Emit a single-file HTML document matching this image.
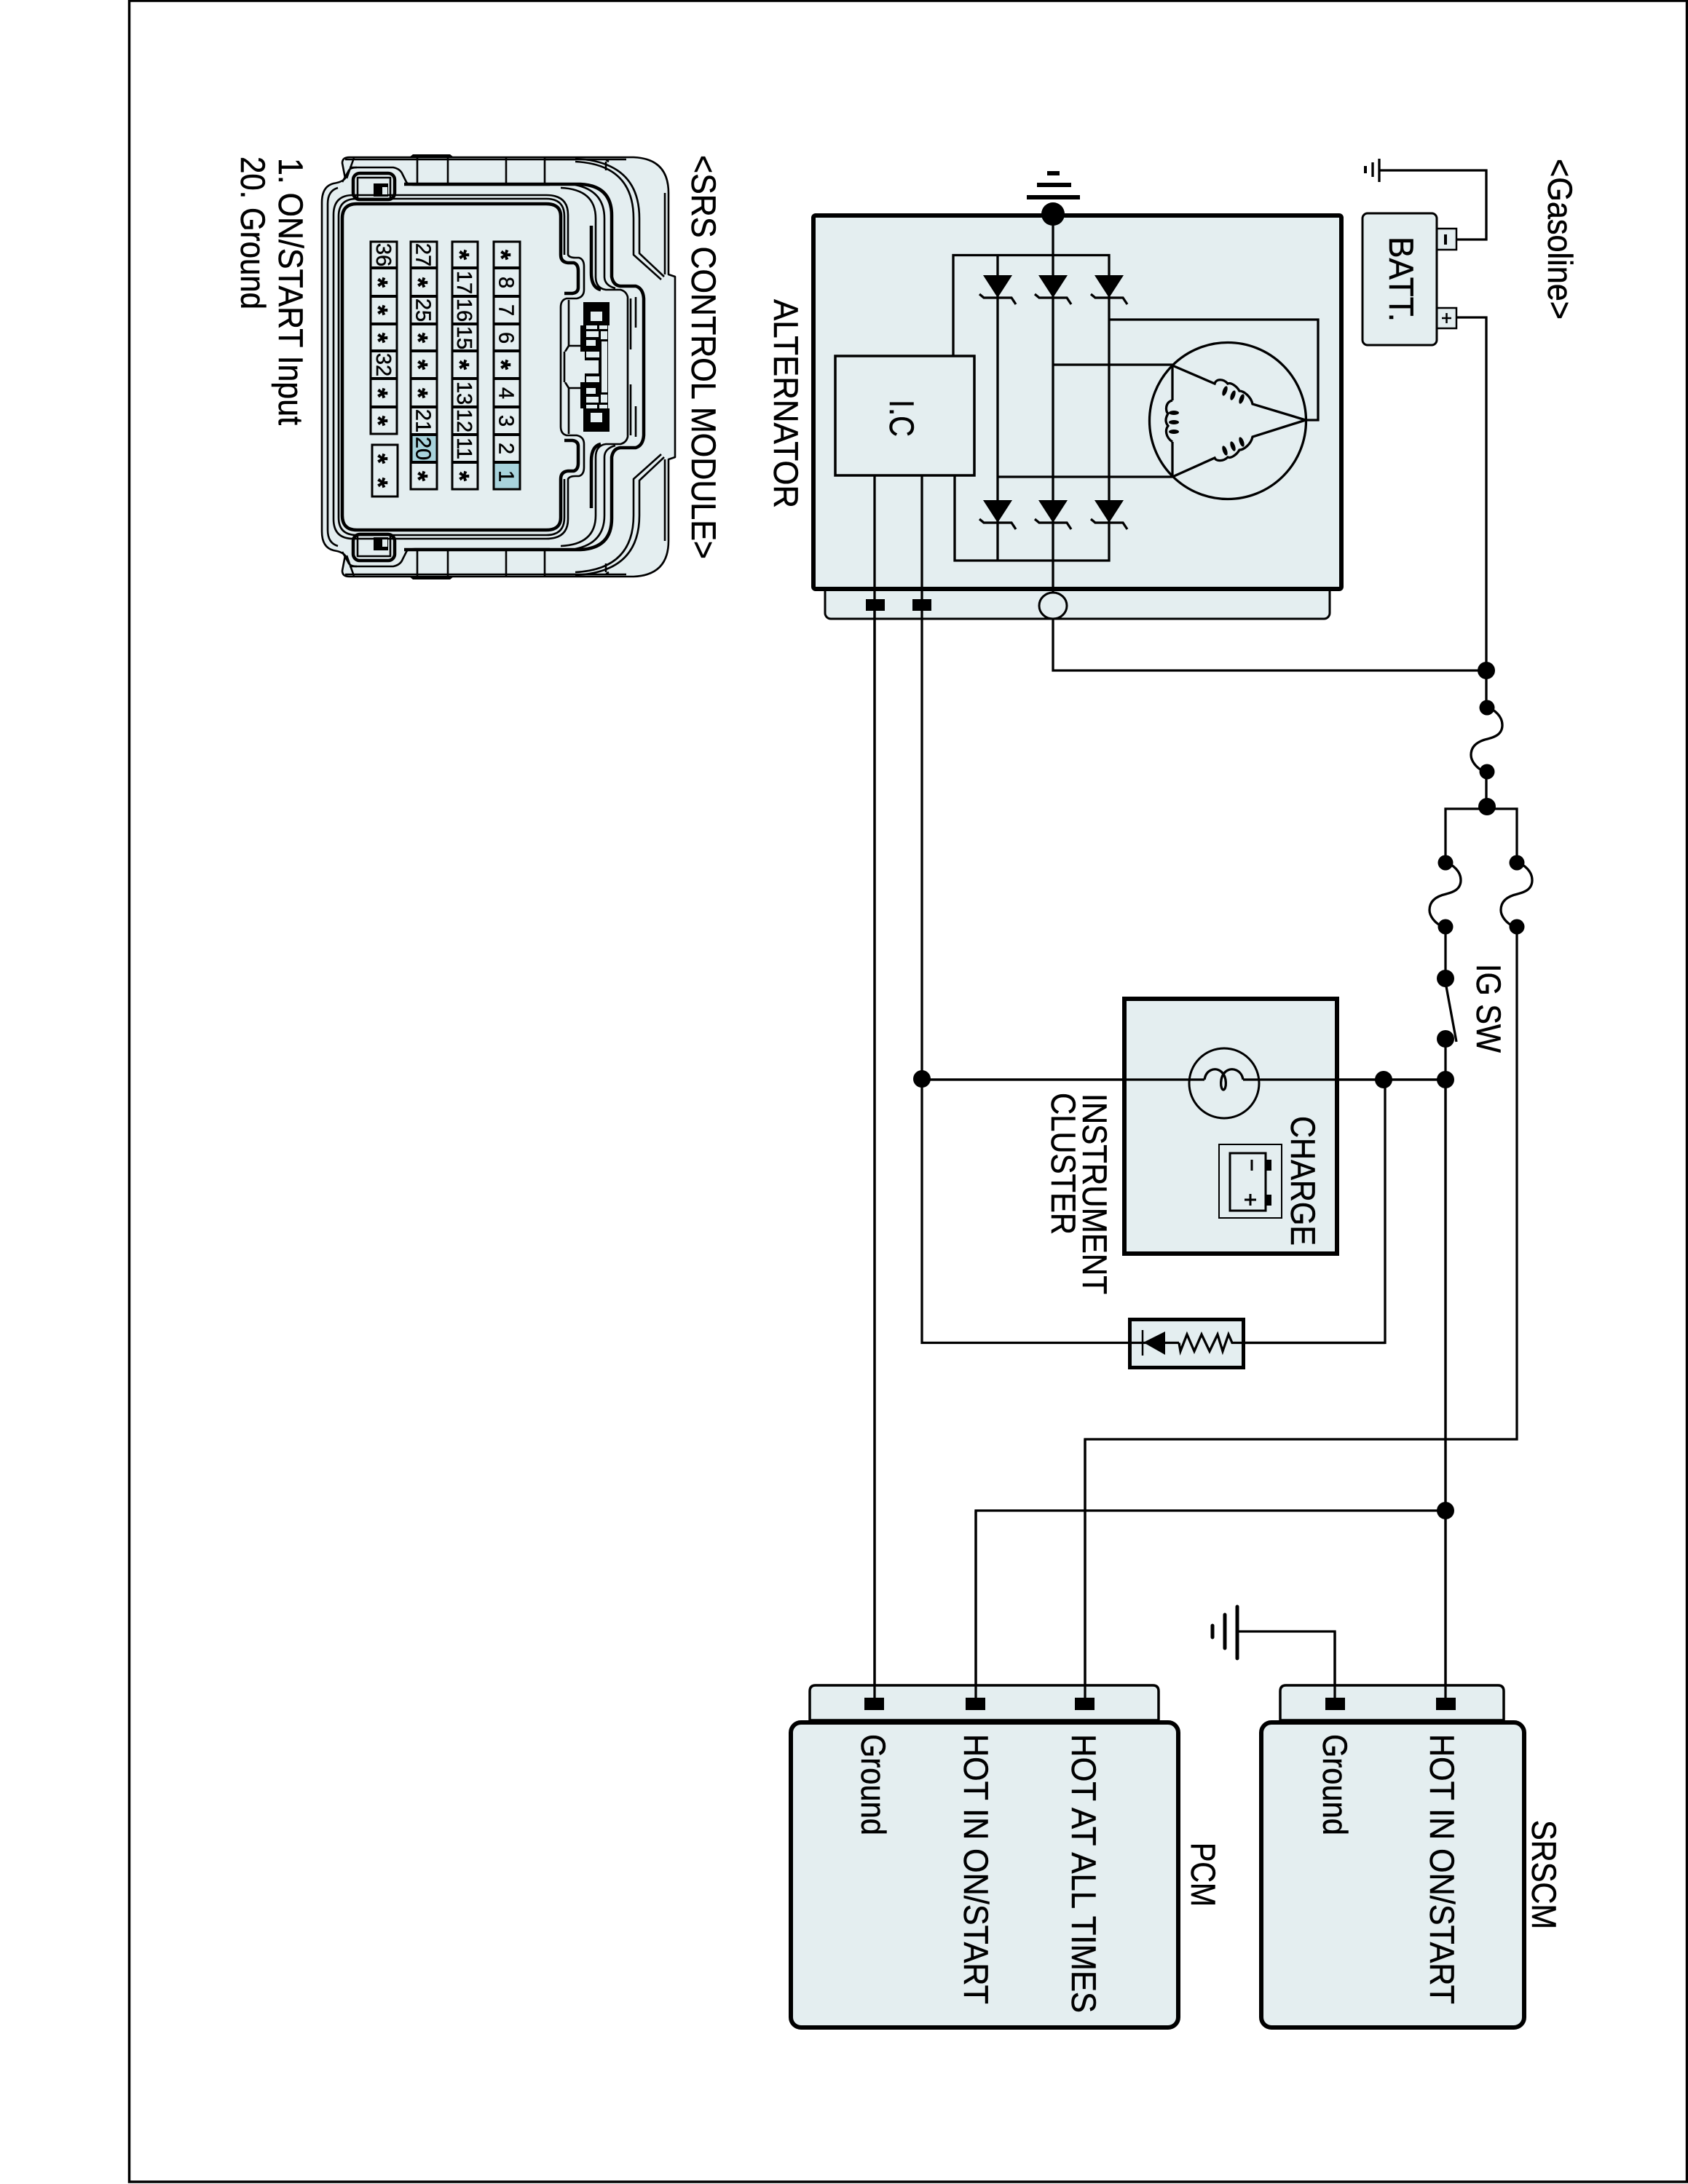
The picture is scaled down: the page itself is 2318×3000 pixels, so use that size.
<!DOCTYPE html>
<html><head><meta charset="utf-8"><title>Charging circuit</title>
<style>
html,body{margin:0;padding:0;background:#fff}
svg{display:block}
text{font-family:"Liberation Sans",sans-serif;font-size:47px;fill:#000;stroke:#000;stroke-width:.5px}
.n{font-size:29px;text-anchor:middle}
.s{font-size:36px;font-weight:bold;text-anchor:middle}
.w{fill:none;stroke:#000;stroke-width:3.3}
.c{fill:none;stroke:#000;stroke-width:2.6;stroke-linejoin:round}
.c2{fill:none;stroke:#000;stroke-width:4.5;stroke-linejoin:round}
</style></head><body>
<svg xmlns="http://www.w3.org/2000/svg" width="2318" height="3000" viewBox="0 0 2318 3000">
<defs>
<g id="diode"><path d="M-20 0H20L0 31Z" fill="#000"/><path d="M-25 26L-19 31H19L25 40" class="w"/></g>
<g id="fuse"><path d="M0,0 C10,2 21,12 21,24 C21,38 8,41 1,43 C-8,45 -22,50 -22,65 C-22,74 -14,82 -9,85" class="w"/><circle r="10.5"/><circle cy="88" r="10.5"/></g>
<g id="half">
<path d="M442 504V278Q442 256 458 252Q470 250 474 245L470 224Q470 216 480 216H870Q918 218 918 265V377L927 380V504" class="c" stroke-width="3"/>
<path d="M450 504V280Q450 262 464 258" class="c"/>
<path d="M474 219H790M480 230H540Q550 232 553 240L558 250Q560 254 570 254H755" class="c"/>
<path d="M470 250L478 236Q480 230 490 230" class="c"/>
<path d="M486 217L476 245" class="c"/>
<path d="M562 216L567 212H618L623 216" fill="#000"/>
<path d="M573 217V254M615 217V254M695 217V254M748 217V254" class="c"/>
<path d="M790 218Q878 222 878 300V348L912 380M790 222Q870 226 870 300V350L908 384" class="c"/>
<path d="M748 219H835Q830 219 836 222M835 219H860M832 222V234" class="c"/>
<path d="M913 265V377" class="c"/>
<path d="M555 253H797Q840 255 840 296V380Q842 392 852 393H873Q883 396 884 410V504" class="c2"/>
<path d="M770 258Q818 260 818 300V380Q818 396 832 398H852Q860 400 862 408V504" class="c"/>
<path d="M790 254Q830 262 830 300V380Q830 392 845 396" class="c"/>
<path d="M812 310V375M812 375Q812 395 825 398" class="c2"/>
<path d="M873 408V450M866 410V480" class="c"/>
<path d="M458 504V295Q458 268 485 268H750Q780 268 780 295V350Q782 354 790 354H795Q802 356 802 366V398Q802 408 792 410H778Q770 412 770 422V504" class="c"/>
<path d="M465 504V297Q465 273 490 273H750Q775 273 775 297V350" class="c"/>
<path d="M470 504V300Q470 280 490 280H750Q770 280 770 297V350Q770 360 780 361H788Q794 363 794 372V395Q794 402 786 403H775" class="c2" stroke-width="3"/>
<rect x="485" y="238" width="57" height="36" rx="9" class="c2" stroke-width="3"/>
<path d="M491 272V244H536V272" class="c"/>
<rect x="513" y="252" width="20" height="18" fill="#000"/>
<rect x="525" y="257" width="7" height="10" fill="#e4eef0"/>
<path d="M781 412V475L776 483M781 475H797" class="c"/>
<rect x="801" y="415" width="36" height="32" fill="#000"/>
<rect x="810" y="427" width="18" height="15" fill="#e4eef0" stroke="#000" stroke-width="2"/>
<rect x="797" y="447" width="38" height="57" fill="#000"/>
<path d="M805 447H820V452H805ZM823 447H834V452H823ZM805 455H822V463H805ZM825 455H834V466H825ZM805 467H818V475H805ZM826 469H834V504H826ZM805 483H823V491H805Z" fill="#e4eef0"/>
<path d="M775 483H803V495H822V504H775Z" fill="#e4eef0"/>
<path d="M775 483V504" class="c"/>
</g>
</defs>

<rect width="2318" height="3000" fill="#fff"/>
<!-- frame -->
<path d="M177.5 1H2316.5V2997H177.5Z" fill="none" stroke="#000" stroke-width="3.5"/>

<!-- SRS connector -->
<path d="M442 504V278Q442 256 458 252L474 245L470 224Q470 216 480 216H870Q918 218 918 265V377L927 380V628L918 631V743Q918 790 870 792H480Q470 792 470 784L474 763L458 756Q442 752 442 730Z" fill="#e4eef0"/>
<use href="#half"/>
<use href="#half" transform="translate(0,1008) scale(1,-1)"/>

<!-- pin grid -->
<g fill="none" stroke="#000" stroke-width="3">
<rect x="678" y="332" width="36" height="340" fill="#e4eef0"/>
<rect x="621" y="332" width="35" height="340" fill="#e4eef0"/>
<rect x="564" y="332" width="36" height="340" fill="#e4eef0"/>
<rect x="509" y="332" width="36" height="264" fill="#e4eef0"/>
<rect x="511" y="611" width="35" height="71" fill="#e4eef0"/>
<rect x="678" y="635" width="36" height="37" fill="#a8d3dc"/>
<rect x="565" y="597" width="35" height="38" fill="#a8d3dc"/>
<path stroke-width="4" d="M678 368H714M678 407H714M678 445H714M678 482H714M678 520H714M678 559H714M678 597H714M678 635H714
M621 368H656M621 407H656M621 445H656M621 482H656M621 520H656M621 559H656M621 597H656M621 635H656
M564 368H600M564 407H600M564 445H600M564 482H600M564 520H600M564 559H600M564 597H600M564 635H600
M509 368H545M509 407H545M509 445H545M509 482H545M509 520H545M509 559H545"/>
</g>
<g>
<text class="s" transform="translate(676,350) rotate(90)">*</text>
<text class="n" transform="translate(685.5,388) rotate(90)">8</text>
<text class="n" transform="translate(685.5,426) rotate(90)">7</text>
<text class="n" transform="translate(685.5,464) rotate(90)">6</text>
<text class="s" transform="translate(676,501) rotate(90)">*</text>
<text class="n" transform="translate(685.5,540) rotate(90)">4</text>
<text class="n" transform="translate(685.5,578) rotate(90)">3</text>
<text class="n" transform="translate(685.5,616) rotate(90)">2</text>
<text class="n" transform="translate(685.5,654) rotate(90)">1</text>

<text class="s" transform="translate(619,350) rotate(90)">*</text>
<text class="n" transform="translate(628,388) rotate(90)">17</text>
<text class="n" transform="translate(628,426) rotate(90)">16</text>
<text class="n" transform="translate(628,464) rotate(90)">15</text>
<text class="s" transform="translate(619,501) rotate(90)">*</text>
<text class="n" transform="translate(628,540) rotate(90)">13</text>
<text class="n" transform="translate(628,578) rotate(90)">12</text>
<text class="n" transform="translate(628,616) rotate(90)">11</text>
<text class="s" transform="translate(619,654) rotate(90)">*</text>

<text class="n" transform="translate(571.5,350) rotate(90)">27</text>
<text class="s" transform="translate(562,388) rotate(90)">*</text>
<text class="n" transform="translate(571.5,426) rotate(90)">25</text>
<text class="s" transform="translate(562,464) rotate(90)">*</text>
<text class="s" transform="translate(562,501) rotate(90)">*</text>
<text class="s" transform="translate(562,540) rotate(90)">*</text>
<text class="n" transform="translate(571.5,578) rotate(90)">21</text>
<text class="n" transform="translate(571.5,616) rotate(90)">20</text>
<text class="s" transform="translate(562,654) rotate(90)">*</text>

<text class="n" transform="translate(517,350) rotate(90)">36</text>
<text class="s" transform="translate(507,388) rotate(90)">*</text>
<text class="s" transform="translate(507,426) rotate(90)">*</text>
<text class="s" transform="translate(507,464) rotate(90)">*</text>
<text class="n" transform="translate(517,501) rotate(90)">32</text>
<text class="s" transform="translate(507,540) rotate(90)">*</text>
<text class="s" transform="translate(507,578) rotate(90)">*</text>
<text class="s" transform="translate(507,630) rotate(90)">*</text>
<text class="s" transform="translate(507,663) rotate(90)">*</text>
</g>

<!-- connector labels -->
<text transform="translate(950,213) rotate(90)" textLength="555" lengthAdjust="spacingAndGlyphs">&lt;SRS CONTROL MODULE&gt;</text>
<text transform="translate(383,217) rotate(90)" textLength="367" lengthAdjust="spacingAndGlyphs">1. ON/START Input</text>
<text transform="translate(331,215) rotate(90)" textLength="210" lengthAdjust="spacingAndGlyphs">20. Ground</text>

<!-- alternator -->
<rect x="1133" y="800" width="693" height="50" rx="8" fill="#e4eef0" stroke="#000" stroke-width="3"/>
<rect x="1117" y="296" width="725" height="513" rx="3" fill="#e4eef0" stroke="#000" stroke-width="6"/>
<rect x="1147" y="489" width="191" height="164" fill="#e4eef0" stroke="#000" stroke-width="3.5"/>
<g class="w">
<path d="M1446 294V814"/>
<path d="M1309 489V350.5H1523V770H1311V653"/>
<path d="M1370 350.5V770"/>
<path d="M1446 501H1610V550M1610 607V655H1370"/>
<path d="M1523 439H1810V577H1793"/>
<path d="M1201 653V2332"/>
<path d="M1266 653V1844.5H1550"/>
<circle cx="1686" cy="578" r="107.5"/>
<path d="M1610 502L1668 527C1670 520 1680 520 1686 527C1690 525 1698 530 1702 537C1708 537 1718 545 1720 555L1793 577L1720 600C1718 610 1708 618 1702 618C1698 625 1690 630 1686 628C1680 634 1670 634 1668 629L1610 655"/>
<path d="M1610 550C1600 552 1600 565 1604 568C1600 575 1600 580 1604 585C1600 590 1600 600 1610 607"/>
</g>
<g fill="#000">
<ellipse cx="1682" cy="537" rx="3" ry="7" transform="rotate(20 1682 537)"/>
<ellipse cx="1693" cy="543" rx="3" ry="7" transform="rotate(20 1693 543)"/>
<ellipse cx="1705" cy="548" rx="3" ry="7" transform="rotate(20 1705 548)"/>
<ellipse cx="1682" cy="619" rx="3" ry="7" transform="rotate(-20 1682 619)"/>
<ellipse cx="1693" cy="613" rx="3" ry="7" transform="rotate(-20 1693 613)"/>
<ellipse cx="1705" cy="607" rx="3" ry="7" transform="rotate(-20 1705 607)"/>
<ellipse cx="1612" cy="567" rx="7" ry="3"/>
<ellipse cx="1612" cy="580" rx="7" ry="3"/>
<ellipse cx="1612" cy="593" rx="7" ry="3"/>
</g>
<use href="#diode" x="1370" y="378"/><use href="#diode" x="1446" y="378"/><use href="#diode" x="1523" y="378"/>
<use href="#diode" x="1370" y="687"/><use href="#diode" x="1446" y="687"/><use href="#diode" x="1523" y="687"/>
<circle cx="1446" cy="294" r="16"/>
<rect x="1410" y="268" width="73" height="6"/>
<rect x="1424" y="251" width="47" height="6"/>
<rect x="1438" y="235" width="17" height="6"/>
<ellipse cx="1446" cy="832" rx="19" ry="18" fill="#e4eef0" stroke="#000" stroke-width="3"/>
<rect x="1189" y="823" width="26" height="16"/>
<rect x="1253" y="823" width="26" height="16"/>
<text transform="translate(1222,549) rotate(90)" textLength="51" lengthAdjust="spacingAndGlyphs">I.C</text>
<text transform="translate(1063,411) rotate(90)" textLength="287" lengthAdjust="spacingAndGlyphs">ALTERNATOR</text>

<!-- battery -->
<rect x="1973" y="314" width="27" height="29" fill="#e4eef0" stroke="#000" stroke-width="2.5"/>
<rect x="1973" y="423" width="27" height="28" fill="#e4eef0" stroke="#000" stroke-width="2.5"/>
<rect x="1871" y="293" width="102" height="181" rx="7" fill="#e4eef0" stroke="#000" stroke-width="3"/>
<text transform="translate(1908,325) rotate(90)" textLength="117" lengthAdjust="spacingAndGlyphs">BATT.</text>
<path d="M1985 322V336" stroke="#000" stroke-width="4"/>
<path d="M1980 437H1993M1986.5 430V444" stroke="#000" stroke-width="2.5"/>
<g class="w">
<path d="M2000 329H2041V234H1894"/>
<path d="M1894 218V250M1885 223V243"/>
<path d="M1875 228V238" stroke-width="4"/>
<path d="M2000 436H2041V972M2041 1060V1108"/>
<path d="M1446 850V921H2041"/>
<path d="M1985 1185V1111H2083V1185"/>
<path d="M1985 1274V1344"/>
<path d="M1986 1355L2000 1431"/>
<path d="M1985 1427V2332"/>
<path d="M2083 1274V1977H1490V2332"/>
<path d="M1985 2075H1340V2332"/>
<path d="M1266 1483H1654M1707 1483H1985"/>
<path d="M1902 1483V1844.5H1693"/>
<path d="M1833 2332V2241H1699"/>
</g>
<text transform="translate(2126,218) rotate(90)" textLength="221" lengthAdjust="spacingAndGlyphs">&lt;Gasoline&gt;</text>
<circle cx="2041" cy="921" r="12"/>
<use href="#fuse" x="2042" y="972"/>
<circle cx="2042" cy="1108" r="12"/>
<use href="#fuse" x="1985" y="1185"/>
<use href="#fuse" x="2083" y="1185"/>
<circle cx="1985" cy="1344" r="12"/>
<circle cx="1985" cy="1427" r="12"/>
<circle cx="1985" cy="1483" r="12"/>
<circle cx="1266" cy="1482" r="12"/>
<circle cx="1900" cy="1483" r="12"/>
<circle cx="1985" cy="2075" r="12"/>
<text transform="translate(2028,1324) rotate(90)" textLength="122" lengthAdjust="spacingAndGlyphs">IG SW</text>

<!-- instrument cluster -->
<rect x="1544" y="1372" width="292" height="350" fill="#e4eef0" stroke="#000" stroke-width="6"/>
<path d="M1266 1483H1654M1707 1483H1985" class="w"/>
<circle cx="1681" cy="1488" r="48" fill="none" stroke="#000" stroke-width="3"/>
<path d="M1654 1483C1656 1470 1668 1465 1677 1472C1686 1480 1684 1497 1680 1497C1676 1497 1674 1480 1683 1472C1692 1465 1705 1470 1707 1483" class="w" stroke-width="3"/>
<rect x="1674" y="1572" width="86" height="101" fill="none" stroke="#000" stroke-width="2"/>
<rect x="1689" y="1584" width="49" height="79" fill="none" stroke="#000" stroke-width="3"/>
<rect x="1738" y="1593" width="8" height="15"/>
<rect x="1738" y="1641" width="8" height="15"/>
<path d="M1719 1593V1608" stroke="#000" stroke-width="3"/>
<path d="M1717 1640V1656M1709 1648H1725" stroke="#000" stroke-width="3"/>
<text transform="translate(1773,1533) rotate(90)" textLength="178" lengthAdjust="spacingAndGlyphs">CHARGE</text>
<text transform="translate(1487,1502) rotate(90)" textLength="276" lengthAdjust="spacingAndGlyphs">INSTRUMENT</text>
<text transform="translate(1444,1501) rotate(90)" textLength="195" lengthAdjust="spacingAndGlyphs">CLUSTER</text>

<!-- diode + resistor box -->
<rect x="1551.5" y="1812.5" width="156" height="66" fill="#e4eef0" stroke="#000" stroke-width="5"/>
<path d="M1552 1844.5H1619M1707 1844.5H1902" class="w"/>
<path d="M1569 1827V1862" stroke="#000" stroke-width="2.5"/>
<path d="M1570 1844L1600 1829V1861Z"/>
<path d="M1619 1844.5L1621 1856L1630 1833L1640 1856L1650 1833L1661 1856L1672 1833L1679 1856L1687 1833L1692 1844.5H1707" class="w" stroke-width="3"/>

<!-- PCM -->
<path d="M1112 2363V2323Q1112 2315 1120 2315H1583Q1591 2315 1591 2323V2363Z" fill="#e4eef0" stroke="#000" stroke-width="3.5"/>
<rect x="1086" y="2366" width="532" height="419" rx="14" fill="#e4eef0" stroke="#000" stroke-width="6"/>
<rect x="1187" y="2332" width="27" height="17"/>
<rect x="1326" y="2332" width="27" height="17"/>
<rect x="1476" y="2332" width="27" height="17"/>
<text transform="translate(1183,2382) rotate(90)" textLength="139" lengthAdjust="spacingAndGlyphs">Ground</text>
<text transform="translate(1324,2382) rotate(90)" textLength="371" lengthAdjust="spacingAndGlyphs">HOT IN ON/START</text>
<text transform="translate(1472,2382) rotate(90)" textLength="383" lengthAdjust="spacingAndGlyphs">HOT AT ALL TIMES</text>
<text transform="translate(1636,2531) rotate(90)" textLength="88" lengthAdjust="spacingAndGlyphs">PCM</text>

<!-- SRSCM -->
<path d="M1758 2363V2323Q1758 2315 1766 2315H2057Q2065 2315 2065 2323V2363Z" fill="#e4eef0" stroke="#000" stroke-width="3.5"/>
<rect x="1732" y="2366" width="361" height="419" rx="14" fill="#e4eef0" stroke="#000" stroke-width="6"/>
<rect x="1820" y="2332" width="27" height="17"/>
<rect x="1972" y="2332" width="27" height="17"/>
<text transform="translate(1817,2382) rotate(90)" textLength="139" lengthAdjust="spacingAndGlyphs">Ground</text>
<text transform="translate(1964,2382) rotate(90)" textLength="371" lengthAdjust="spacingAndGlyphs">HOT IN ON/START</text>
<text transform="translate(2104,2500) rotate(90)" textLength="150" lengthAdjust="spacingAndGlyphs">SRSCM</text>
<g stroke="#000" stroke-linecap="round" fill="none">
<path d="M1699 2207V2278" stroke-width="5"/>
<path d="M1682 2218V2264" stroke-width="5"/>
<path d="M1665 2233V2249" stroke-width="5"/>
</g>
<path d="M1833 2241V2332M1201 839V2332M1340 2075V2332M1490 1977V2332M1985 1483V2332" class="w"/>
</svg>
</body></html>
